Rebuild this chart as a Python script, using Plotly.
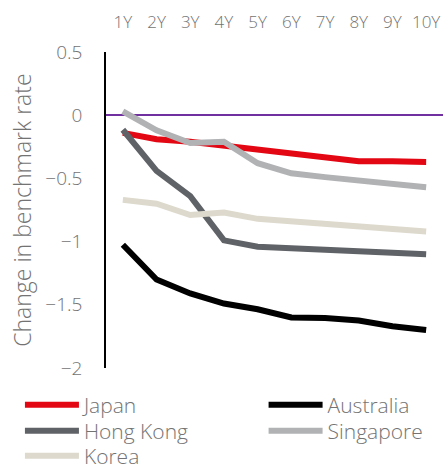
import plotly.graph_objects as go

tenors = ["1Y", "2Y", "3Y", "4Y", "5Y", "6Y", "7Y", "8Y", "9Y", "10Y"]

japan = [-0.14, -0.19, -0.21, -0.24, -0.265, -0.305, -0.335, -0.365, -0.365, -0.37]
australia = [-1.025, -1.30, -1.41, -1.49, -1.535, -1.60, -1.605, -1.625, -1.67, -1.70]
hong_kong = [-0.115, -0.44, -0.64, -0.99, -1.04, -1.05, -1.065, -1.075, -1.085, -1.10]
singapore = [0.03, -0.12, -0.22, -0.21, -0.38, -0.46, -0.49, -0.515, -0.54, -0.57]
korea = [-0.67, -0.70, -0.79, -0.77, -0.82, -0.84, -0.86, -0.88, -0.90, -0.92]

# (name, values, colour, legend id)
series = [
    ("Japan", japan, "#E30613", "legend"),
    ("Australia", australia, "#000000", "legend2"),
    ("Hong Kong", hong_kong, "#5F6266", "legend3"),
    ("Singapore", singapore, "#B1B2B4", "legend4"),
    ("Korea", korea, "#DDD9CC", "legend5"),
]

FONT = "Open Sans"
GREY = "#737373"
LIGHT = 300

fig = go.Figure()
for name, vals, color, leg in series:
    fig.add_trace(go.Scatter(
        x=tenors, y=vals, name=name, mode="lines",
        line=dict(color=color, width=6), legend=leg,
    ))

# one single-entry legend per slot: two columns, three rows
legend_font = dict(size=21, color=GREY, family=FONT, weight=LIGHT)
legend_common = dict(
    orientation="v", xref="container", yref="container",
    xanchor="left", yanchor="middle", itemwidth=54,
    font=legend_font, bgcolor="rgba(0,0,0,0)",
)
col_x = [0.045, 0.595]
row_y = [1 - 405 / 470, 1 - 431 / 470, 1 - 456 / 470]
slots = {
    "legend": (col_x[0], row_y[0]),
    "legend2": (col_x[1], row_y[0]),
    "legend3": (col_x[0], row_y[1]),
    "legend4": (col_x[1], row_y[1]),
    "legend5": (col_x[0], row_y[2]),
}
legends = {k: dict(x=x, y=y, **legend_common) for k, (x, y) in slots.items()}

fig.update_layout(
    width=443, height=470,
    margin=dict(l=106, r=0, t=52, b=102, autoexpand=False),
    paper_bgcolor="white", plot_bgcolor="white",
    font=dict(family=FONT, color=GREY, size=16, weight=LIGHT),
    xaxis=dict(
        side="top", type="category", showgrid=False, zeroline=False,
        showline=False, ticks="", ticklabelstandoff=20, tickangle=0,
        range=[-0.5, 9.5], automargin=False,
        tickfont=dict(size=17, color=GREY, family=FONT, weight=LIGHT),
    ),
    yaxis=dict(
        range=[-2, 0.5], dtick=0.5, showgrid=False, automargin=False,
        showline=True, linecolor="#000000", linewidth=1.5,
        zeroline=True, zerolinecolor="#7030A0", zerolinewidth=1.5,
        ticks="", ticklabelstandoff=18,
        tickfont=dict(size=19, color=GREY, family=FONT, weight=LIGHT),
    ),
    annotations=[dict(
        text="Change in benchmark rate", textangle=-90,
        xref="paper", yref="paper", x=-0.25, y=0.5,
        xanchor="center", yanchor="middle", showarrow=False,
        font=dict(size=23, color=GREY, family=FONT, weight=LIGHT),
    )],
    showlegend=True,
    **legends,
)

fig.write_html("out.html")
